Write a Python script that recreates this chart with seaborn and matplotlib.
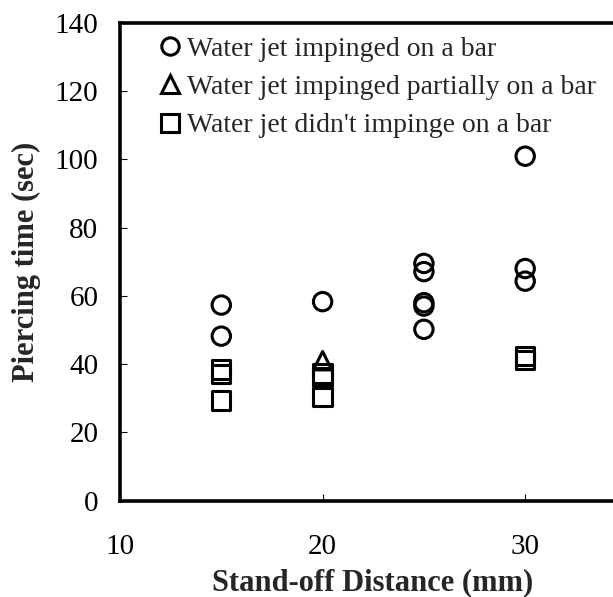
import matplotlib
matplotlib.use("Agg")
import matplotlib.pyplot as plt
from matplotlib.lines import Line2D
import seaborn as sns
import pandas as pd

# ---- data ----
cat_names = ["Water jet impinged on a bar",
             "Water jet impinged partially on a bar",
             "Water jet didn't impinge on a bar"]

impinged_x = [15, 15, 20, 25, 25, 25, 25, 25, 30, 30, 30]
impinged_y = [57.3, 48.2, 58.3, 69.5, 67.1, 58.0, 57.0, 50.2, 100.9, 68.0, 64.3]

partial_x = [20]
partial_y = [41.0]

none_x = [15, 15, 15, 20, 20, 20, 30, 30]
none_y = [38.4, 37.2, 29.3, 37.3, 36.2, 30.3, 42.3, 41.3]

x_ticks = [10, 20, 30]
y_ticks = [0, 20, 40, 60, 80, 100, 120, 140]

df = pd.concat([
    pd.DataFrame({"x": impinged_x, "y": impinged_y, "cat": cat_names[0]}),
    pd.DataFrame({"x": partial_x, "y": partial_y, "cat": cat_names[1]}),
    pd.DataFrame({"x": none_x, "y": none_y, "cat": cat_names[2]}),
], ignore_index=True)

sns.set_style("ticks")
plt.rcParams["font.family"] = ["Liberation Serif", "DejaVu Serif"]

fig = plt.figure(figsize=(6.13, 5.97), dpi=100)
ax = fig.add_axes([120 / 613, 1 - 500.7 / 597, 1 - 120 / 613, (500.7 - 22.7) / 597])

markers = {cat_names[0]: "o", cat_names[1]: "^", cat_names[2]: "s"}
sns.scatterplot(data=df, x="x", y="y", style="cat", markers=markers,
                color="black", s=175, linewidth=2.2, ax=ax, legend=False)
for coll in ax.collections:
    coll.set_facecolor("none")
    coll.set_edgecolor("black")

ax.set_xlim(10, 10 + 493 / 20.26)
ax.set_ylim(0, 140)
ax.set_xticks(x_ticks)
ax.set_yticks(y_ticks)
ax.tick_params(axis="both", direction="in", length=5, width=0.8,
               labelsize=21, colors="black")
ax.tick_params(axis="y", pad=15.5)
ax.tick_params(axis="x", pad=24)

for side in ["left", "bottom", "top"]:
    ax.spines[side].set_linewidth(2.6)
    ax.spines[side].set_color("black")
ax.spines["right"].set_visible(False)

ax.set_xlabel("Stand-off Distance (mm)", fontsize=22, fontweight="bold")
ax.set_ylabel("Piercing time (sec)", fontsize=22, fontweight="bold")
ax.xaxis.set_label_coords((372.6 - 120) / 493, (500.7 - 568) / 478)
ax.yaxis.set_label_coords((41 - 120) / 493, 0.5)

handles = [Line2D([], [], linestyle="none", marker=markers[c], markersize=12.5,
                  markerfacecolor="none", markeredgecolor="black",
                  markeredgewidth=2.2) for c in cat_names]
fig.legend(handles, cat_names, loc="upper left",
           bbox_to_anchor=(159 / 613, 1 - 36.5 / 597),
           bbox_transform=fig.transFigure, frameon=False, fontsize=20,
           handlelength=0.8, handletextpad=0.2, labelspacing=0.46,
           borderpad=0, borderaxespad=0)

fig.savefig("out.png", dpi=100)
